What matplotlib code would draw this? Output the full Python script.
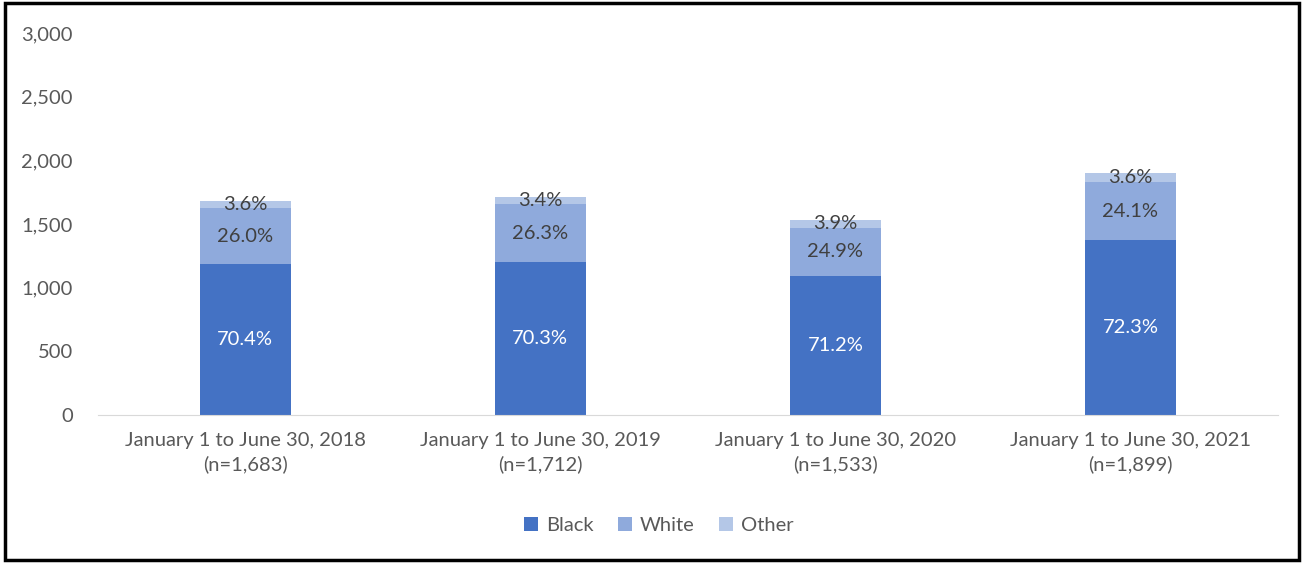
import numpy as np
import matplotlib
matplotlib.use("Agg")
import matplotlib.pyplot as plt
from matplotlib.patches import Rectangle

plt.rcParams["font.family"] = ["Lato", "DejaVu Sans"]

# ── Data ─────────────────────────────────────────────────────────────────────
PERIODS = [
    "January 1 to June 30, 2018\n(n=1,683)",
    "January 1 to June 30, 2019\n(n=1,712)",
    "January 1 to June 30, 2020\n(n=1,533)",
    "January 1 to June 30, 2021\n(n=1,899)",
]
BLACK = [1185, 1204, 1091, 1373]
WHITE = [438, 450, 382, 458]
OTHER = [61, 58, 60, 68]
BLACK_PCT = ["70.4%", "70.3%", "71.2%", "72.3%"]
WHITE_PCT = ["26.0%", "26.3%", "24.9%", "24.1%"]
OTHER_PCT = ["3.6%", "3.4%", "3.9%", "3.6%"]

C_BLACK = "#4472C4"
C_WHITE = "#8FAADC"
C_OTHER = "#B4C7E7"
TXT = "#595959"
FS = 14.5

fig = plt.figure(figsize=(13.04, 5.63), dpi=100)
ax = fig.add_axes([0.075, 0.263, 0.905, 0.678])

x = np.arange(len(PERIODS))
black = np.array(BLACK)
white = np.array(WHITE)
other = np.array(OTHER)
w = 0.31

ax.bar(x, black, w, color=C_BLACK, label="Black")
ax.bar(x, white, w, bottom=black, color=C_WHITE, label="White")
ax.bar(x, other, w, bottom=black + white, color=C_OTHER, label="Other")

for i in range(len(x)):
    ax.text(x[i], black[i] / 2, BLACK_PCT[i], ha="center", va="center",
            fontsize=FS, color="white")
    ax.text(x[i], black[i] + white[i] / 2, WHITE_PCT[i], ha="center", va="center",
            fontsize=FS, color="#404040")
    ax.text(x[i], black[i] + white[i] + other[i] / 2, OTHER_PCT[i], ha="center",
            va="center", fontsize=FS, color="#404040")

ax.set_xlim(-0.5, 3.5)
ax.set_ylim(0, 3000)
ax.set_yticks(range(0, 3001, 500))
ax.set_yticklabels([f"{v:,}" for v in range(0, 3001, 500)])
ax.set_xticks(x)
ax.set_xticklabels(PERIODS, linespacing=1.45)
ax.tick_params(axis="both", length=0, labelsize=FS, labelcolor=TXT)
ax.tick_params(axis="y", pad=18)
ax.tick_params(axis="x", pad=12)
for s in ["top", "right", "left"]:
    ax.spines[s].set_visible(False)
ax.spines["bottom"].set_color("#D9D9D9")

fig.legend(*ax.get_legend_handles_labels(), loc="center",
           bbox_to_anchor=(0.505, 0.066), ncol=3, frameon=False,
           fontsize=FS, labelcolor=TXT, handlelength=0.7, handleheight=0.7,
           columnspacing=1.2, handletextpad=0.4)

fig.patches.append(Rectangle((0.004, 0.005), 0.992, 0.99, transform=fig.transFigure,
                             fill=False, edgecolor="black", linewidth=2.5))

fig.savefig("out.png", dpi=100, facecolor="white")
